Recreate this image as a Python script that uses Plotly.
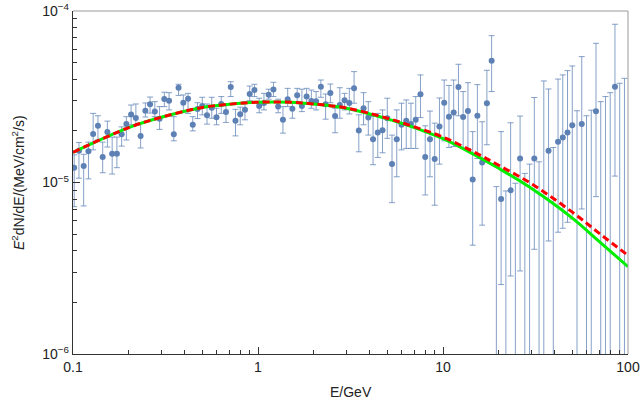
import plotly.graph_objects as go

# ---------------- data ----------------
energy_gev = [
    0.1015, 0.1077, 0.1142, 0.1212, 0.1285, 0.1364, 0.1447, 0.1534, 0.1628, 0.1727,
    0.1832, 0.1943, 0.2061, 0.2187, 0.2320, 0.2461, 0.2610, 0.2769, 0.2938, 0.3116,
    0.3306, 0.3507, 0.3720, 0.3947, 0.4187, 0.4441, 0.4711, 0.4998, 0.5302, 0.5624,
    0.5966, 0.6329, 0.6714, 0.7122, 0.7555, 0.8015, 0.8503, 0.9020, 0.9568,
    1.015, 1.077, 1.142, 1.212, 1.285, 1.364, 1.447, 1.534, 1.628, 1.727,
    1.832, 1.943, 2.061, 2.187, 2.320, 2.461, 2.610, 2.769, 2.938, 3.116,
    3.306, 3.507, 3.720, 3.947, 4.187, 4.441, 4.711, 4.998, 5.302, 5.624,
    5.966, 6.329, 6.714, 7.122, 7.555, 8.015, 8.503, 9.020, 9.568,
    10.15, 10.77, 11.42, 12.12, 12.85, 13.64, 14.47, 15.34, 16.28, 17.27,
    18.32, 19.43, 20.61, 21.87, 23.20, 24.61, 26.10, 27.69, 29.38, 31.16,
    33.06, 35.07, 37.20, 39.47, 41.87, 44.41, 47.11, 49.98, 53.02, 56.24,
    59.66, 63.29, 67.14, 71.22, 75.55, 80.15, 85.03, 90.20, 95.68,
]

# E^2 dN/dE in units of 1e-5 MeV/cm^2/s
flux_e5 = [
    1.22, 1.53, 1.25, 1.52, 1.92, 2.14, 1.41, 1.97, 1.47, 1.47,
    1.91, 2.19, 2.49, 2.38, 1.87, 2.62, 2.86, 2.59, 2.35, 3.07,
    3.00, 1.91, 3.57, 2.92, 3.08, 2.17, 2.68, 2.79, 2.47, 2.73,
    2.40, 2.87, 2.58, 3.61, 2.29, 2.50, 2.66, 3.28, 3.46,
    2.79, 2.91, 3.25, 3.48, 2.77, 2.32, 3.06, 2.69, 3.23, 2.79,
    3.17, 2.99, 2.98, 3.62, 2.86, 3.33, 2.44, 2.83, 3.02, 2.91,
    3.54, 2.01, 2.71, 2.39, 1.79, 1.96, 2.02, 2.37, 1.28, 1.79,
    2.17, 2.29, 2.19, 2.32, 3.27, 1.41, 1.79, 1.37, 2.12,
    2.92, 2.42, 2.56, 3.61, 2.41, 2.61, 1.04, 2.45, 1.31, 2.90,
    5.13, 0.06, 0.80, 0.06, 0.90, 0.06, 1.38, 0.06, 0.06, 1.38,
    0.06, 0.06, 1.53, 0.06, 1.73, 1.83, 1.96, 2.16, 0.06, 2.19,
    0.06, 0.06, 2.60, 0.06, 0.06, 0.06, 3.62, 0.06, 0.06,
]

flux_hi_e5 = [
    1.45, 1.71, 1.46, 1.72, 2.53, 2.45, 1.72, 2.28, 1.84, 1.84,
    2.11, 2.42, 2.83, 2.87, 2.22, 2.91, 3.15, 2.96, 2.77, 3.36,
    3.34, 2.42, 3.74, 3.24, 3.31, 2.42, 2.92, 3.14, 2.87, 3.14,
    2.71, 3.17, 2.86, 3.87, 2.67, 2.75, 2.96, 3.65, 3.74,
    3.10, 3.31, 3.50, 3.84, 3.06, 2.77, 3.54, 2.96, 3.54, 3.50,
    3.54, 3.46, 3.39, 3.96, 3.28, 3.75, 2.71, 3.57, 3.31, 3.54,
    4.43, 2.48, 3.34, 2.96, 2.43, 2.53, 2.65, 3.10, 1.89, 2.65,
    2.90, 3.03, 2.90, 3.17, 4.24, 2.14, 2.61, 2.22, 3.11,
    3.96, 3.68, 3.96, 4.89, 3.39, 3.82, 1.98, 3.72, 2.26, 4.51,
    7.18, 0.946, 1.98, 0.893, 2.23, 0.990, 2.44, 1.13, 1.28, 3.13,
    1.32, 3.91, 3.51, 1.60, 4.01, 4.24, 4.49, 4.78, 2.62, 5.42,
    2.45, 2.64, 6.48, 2.96, 3.17, 3.34, 8.37, 3.79, 4.05,
]

flux_lo_e5 = [
    0.723, 1.06, 0.730, 1.05, 1.55, 1.77, 1.14, 1.61, 1.12, 1.22,
    1.63, 1.77, 2.17, 2.17, 1.59, 2.41, 2.54, 2.42, 2.04, 2.77,
    2.65, 1.75, 3.22, 2.59, 2.53, 2.00, 2.36, 2.48, 2.19, 2.37,
    2.17, 2.53, 2.24, 3.17, 1.87, 2.17, 2.32, 3.00, 3.17,
    2.55, 2.65, 3.06, 3.17, 2.55, 1.94, 2.77, 2.37, 2.96, 2.59,
    2.90, 2.71, 2.65, 3.14, 2.34, 2.92, 1.95, 2.37, 2.65, 2.51,
    2.90, 1.51, 2.17, 1.89, 1.27, 1.40, 1.49, 1.81, 0.763, 1.08,
    1.55, 1.58, 1.58, 1.58, 2.39, 0.846, 1.08, 0.737, 1.28,
    1.75, 1.60, 1.62, 2.45, 1.58, 1.58, 0.431, 1.38, 0.564, 1.66,
    3.39, 0.001, 0.254, 0.001, 0.285, 0.001, 0.305, 0.001, 0.001, 0.408,
    0.001, 0.001, 0.456, 0.001, 0.513, 0.541, 0.586, 0.613, 0.001, 0.701,
    0.001, 0.001, 0.827, 0.001, 0.001, 0.001, 1.09, 0.001, 0.001,
]

model_energy = [0.1, 0.2, 0.3, 0.5, 0.7, 1, 1.5, 2, 3, 5, 7, 10, 15, 20, 30, 50, 70, 100]
model_green_e5 = [1.50, 2.09, 2.40, 2.74, 2.86, 2.94, 2.94, 2.87, 2.71, 2.35, 2.09, 1.80,
                  1.44, 1.21, 0.925, 0.620, 0.452, 0.323]
model_red_e5 = [1.50, 2.09, 2.40, 2.74, 2.86, 2.94, 2.94, 2.87, 2.72, 2.37, 2.11, 1.84,
                1.49, 1.26, 0.985, 0.672, 0.505, 0.376]

x_tick_vals = [0.1, 1, 10, 100]
x_tick_text = ["0.1", "1", "10", "100"]
y_tick_vals = [1e-6, 1e-5, 1e-4]
y_tick_text = ["10<sup>\u22126</sup>", "10<sup>\u22125</sup>", "10<sup>\u22124</sup>"]

# ---------------- build ----------------
unit = 1e-5
flux = [v * unit for v in flux_e5]
err_plus = [(h - f) * unit for h, f in zip(flux_hi_e5, flux_e5)]
err_minus = [(f - l) * unit for f, l in zip(flux_e5, flux_lo_e5)]

BLUE = "#5E81B5"

fig = go.Figure()
fig.add_trace(go.Scatter(
    x=energy_gev, y=flux, mode="markers",
    marker=dict(color=BLUE, size=6),
    error_y=dict(type="data", symmetric=False, array=err_plus, arrayminus=err_minus,
                 color="rgba(94,129,181,0.75)", thickness=1, width=3),
    hoverinfo="skip",
))
fig.add_trace(go.Scatter(
    x=model_energy, y=[v * unit for v in model_green_e5], mode="lines",
    line=dict(color="#00EE00", width=3, shape="spline", smoothing=1.0),
))
fig.add_trace(go.Scatter(
    x=model_energy, y=[v * unit for v in model_red_e5], mode="lines",
    line=dict(color="#FF0000", width=3, dash="7px,4px", shape="spline", smoothing=1.0),
))

x_minor = [d * k for d in (0.1, 1, 10) for k in range(2, 10)]
y_minor = [d * k for d in (1e-6, 1e-5) for k in range(2, 10)]

AX = "#333333"
fig.update_xaxes(
    type="log", range=[-1, 2], tickmode="array", tickvals=x_tick_vals, ticktext=x_tick_text,
    ticks="inside", ticklen=7, tickwidth=1, tickcolor=AX,
    showline=True, linecolor=AX, linewidth=1.2, mirror=False,
    showgrid=False, zeroline=False, automargin=False,
    minor=dict(ticks="inside", ticklen=4, tickwidth=1, tickcolor=AX, tickvals=x_minor, showgrid=False),
    tickfont=dict(size=14, color="#222"),
)
fig.update_yaxes(
    type="log", range=[-6, -4], tickmode="array", tickvals=y_tick_vals, ticktext=y_tick_text,
    ticks="inside", ticklen=7, tickwidth=1, tickcolor=AX,
    showline=True, linecolor=AX, linewidth=1.2, mirror=False,
    showgrid=False, zeroline=False, automargin=False,
    minor=dict(ticks="inside", ticklen=4, tickwidth=1, tickcolor=AX, tickvals=y_minor, showgrid=False),
    tickfont=dict(size=14, color="#222"),
)

fig.update_layout(
    width=643, height=410,
    margin=dict(l=73, r=15, t=11, b=56, autoexpand=False),
    paper_bgcolor="white", plot_bgcolor="white",
    showlegend=False,
    font=dict(family="Liberation Sans, Arial, sans-serif", size=14, color="#222"),
    shapes=[
        dict(type="line", xref="paper", yref="paper", x0=0, x1=1, y0=1, y1=1,
             line=dict(color="#999999", width=1)),
        dict(type="line", xref="paper", yref="paper", x0=1, x1=1, y0=0, y1=1,
             line=dict(color="#999999", width=1)),
    ],
    annotations=[
        dict(text="E/GeV", xref="paper", yref="paper", x=0.5, y=-0.112,
             xanchor="center", yanchor="middle", showarrow=False,
             font=dict(size=14, color="#222")),
        dict(text="<i>E</i><sup>2</sup>dN/dE/(MeV/cm<sup>2</sup>/s)", xref="paper", yref="paper",
             x=-0.1, y=0.5, xanchor="center", yanchor="middle", textangle=-90,
             showarrow=False, font=dict(size=14, color="#222")),
    ],
)

fig.write_html(
    "out.html",
    config={"displayModeBar": False, "staticPlot": True},
    post_script="document.body.style.margin='0';document.body.style.padding='0';",
)
